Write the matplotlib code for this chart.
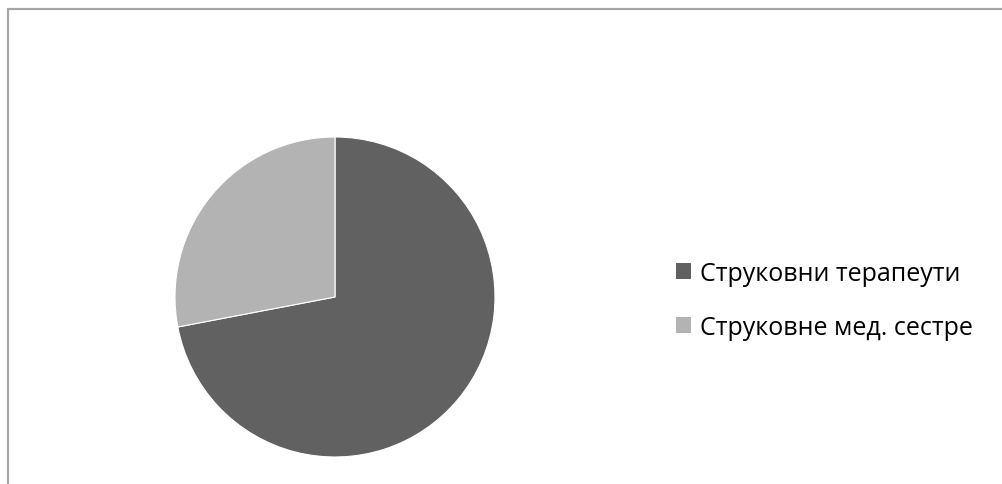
import matplotlib
matplotlib.use("Agg")
import matplotlib.pyplot as plt
from matplotlib.patches import Rectangle, Patch

labels = ["Струковни терапеути", "Струковне мед. сестре"]
values = [72, 28]
colors = ["#616161", "#b3b3b3"]

W, H = 1003, 485
fig = plt.figure(figsize=(W/100, H/100), dpi=100)
plt.rcParams['font.family'] = ['Open Sans', 'DejaVu Sans']

# chart frame
fig.patches.append(Rectangle((8.5/W, -0.1), 1.2, (H - 9.5)/H + 0.1, transform=fig.transFigure,
                             fill=False, edgecolor="#a6a6a6", linewidth=1.6))

cx, cy, r = 335, 298, 160
ax = fig.add_axes([(cx - r)/W, (H - cy - r)/H, 2*r/W, 2*r/H])
wedges, _ = ax.pie(values, colors=colors, startangle=90, counterclock=False,
                   wedgeprops=dict(edgecolor="white", linewidth=0.8))
ax.set_aspect('equal')
ax.set_xlim(-1, 1)
ax.set_ylim(-1, 1)

handles = [Patch(facecolor=c, edgecolor='none') for c in colors]
fig.legend(handles, labels, loc='center left', bbox_to_anchor=(676/W, (H - 301.5)/H),
           frameon=False, fontsize=18, handlelength=0.6, handleheight=0.6,
           handletextpad=0.35, labelspacing=1.15, borderpad=0, borderaxespad=0)

fig.savefig("out.png", dpi=100)
